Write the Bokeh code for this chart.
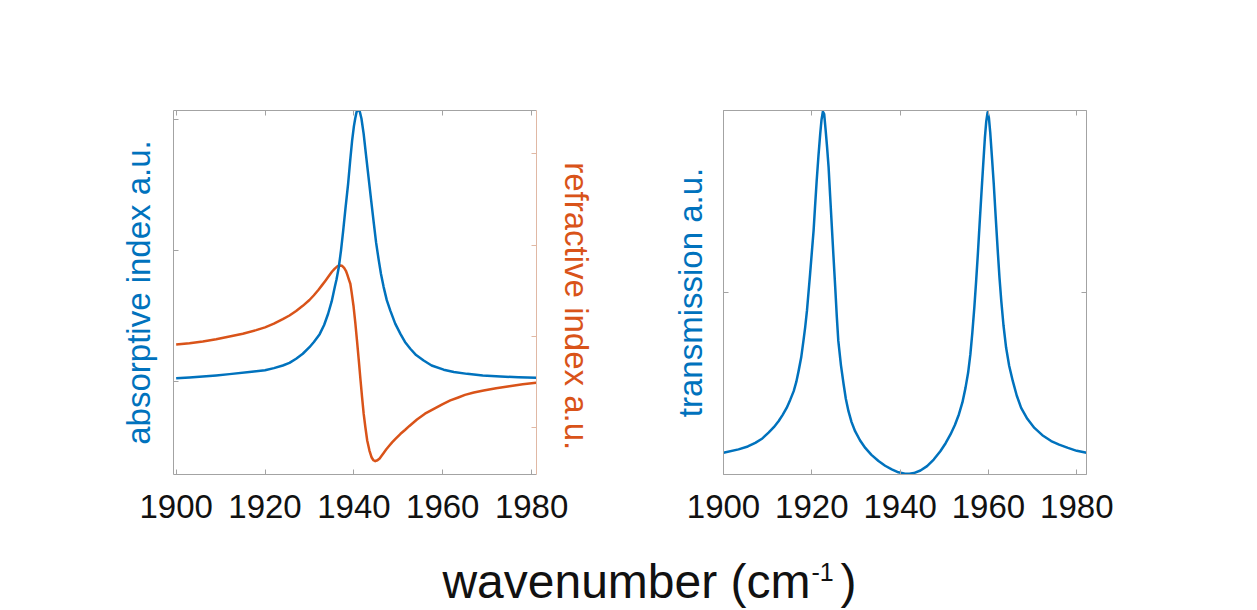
from bokeh.plotting import figure
from bokeh.models import Range1d, LinearAxis, FixedTicker, Label
from bokeh.layouts import row, column
from bokeh.embed import file_html
from bokeh.resources import INLINE

# ---- data -------------------------------------------------------------
# absorptive index (left axis of the left panel)
abs_wn = [1900, 1903, 1906, 1909, 1912, 1917, 1920, 1922, 1924, 1925.5,
          1927, 1928.5, 1930, 1931, 1932.3, 1933.3, 1934.2, 1935.0, 1935.7,
          1936.1, 1936.6, 1937.1, 1937.6, 1938.1, 1938.7, 1939.2, 1939.6,
          1940.0, 1940.3, 1940.6, 1941.0, 1941.35, 1941.7, 1942.2, 1942.7,
          1943.3, 1943.9, 1944.5, 1945.0, 1945.6, 1946.1, 1946.7, 1947.4,
          1948.2, 1949.3, 1950.5, 1951.5, 1952.7, 1954, 1955.7, 1957.5,
          1960.2, 1962.5, 1965.5, 1969, 1973, 1977, 1981]
abs_val = [0.011, 0.014, 0.018, 0.022, 0.027, 0.036, 0.042, 0.050, 0.060, 0.070,
           0.086, 0.105, 0.130, 0.150, 0.180, 0.215, 0.258, 0.305, 0.360,
           0.390, 0.436, 0.500, 0.577, 0.660, 0.755, 0.850, 0.920,
           0.975, 1.005, 1.030, 1.040, 1.030, 1.005, 0.946, 0.870,
           0.780, 0.690, 0.602, 0.530, 0.462, 0.410, 0.360, 0.310,
           0.270, 0.220, 0.180, 0.150, 0.124, 0.100, 0.079, 0.060,
           0.044, 0.035, 0.028, 0.022, 0.018, 0.015, 0.013]

# refractive index (right axis of the left panel)
ref_wn = [1900, 1903, 1906, 1909, 1912, 1915, 1918, 1920, 1922, 1924, 1925.5,
          1927, 1928.5, 1930, 1931, 1932, 1932.8, 1933.6, 1934.4, 1935.1,
          1935.7, 1936.2, 1936.6, 1937.0, 1937.4, 1937.8, 1938.2, 1938.5,
          1938.9, 1939.2, 1939.5, 1939.9, 1940.3, 1940.7, 1941.1, 1941.5,
          1941.85, 1942.2, 1942.6, 1943.0, 1943.5, 1944.0, 1944.4, 1944.8,
          1945.3, 1945.8, 1946.2, 1946.7, 1947.3, 1948.0, 1948.6, 1949.3,
          1950.5, 1951.5, 1952.5, 1954.2, 1956, 1958, 1960, 1961.7, 1963.5,
          1965, 1967, 1969.2, 1972, 1975, 1978, 1981]
ref_val = [0.456, 0.463, 0.473, 0.485, 0.500, 0.515, 0.535, 0.550, 0.570, 0.595, 0.615,
           0.640, 0.668, 0.700, 0.726, 0.755, 0.780, 0.806, 0.833, 0.856,
           0.872, 0.883, 0.888, 0.889, 0.886, 0.876, 0.860, 0.840,
           0.810, 0.789, 0.740, 0.670, 0.580, 0.478, 0.370, 0.259,
           0.165, 0.077, 0.000, -0.070, -0.125, -0.163, -0.178, -0.183,
           -0.178, -0.168, -0.155, -0.138, -0.118, -0.097, -0.080, -0.062,
           -0.033, -0.012, 0.010, 0.045, 0.077, 0.104, 0.130, 0.150, 0.166,
           0.180, 0.193, 0.204, 0.217, 0.228, 0.238, 0.246]

# transmission (right panel)
tr_wn = [1900.0, 1903.4, 1905.5, 1907.2, 1908.8, 1910.2, 1911.4, 1912.5, 1913.4,
         1914.3, 1915.1, 1915.9, 1916.5, 1917.0, 1917.6, 1918.1, 1918.5, 1918.9,
         1919.25, 1919.6, 1920.0, 1920.4, 1920.75, 1921.1, 1921.5, 1921.9, 1922.2,
         1922.5, 1922.8, 1923.1, 1923.45, 1923.8, 1924.15, 1924.5, 1924.9, 1925.3,
         1925.65, 1926.0, 1926.6, 1927.2, 1927.7, 1928.3, 1929.0, 1929.8, 1930.9,
         1932.1, 1933.5, 1935.1, 1936.6, 1938.1, 1939.6, 1941.1, 1942.1, 1943.1,
         1944.6, 1946.1, 1947.6, 1949.1, 1950.3, 1951.4, 1952.4, 1953.3, 1954.1,
         1954.8, 1955.4, 1955.9, 1956.35, 1956.8, 1957.2, 1957.6, 1958.0, 1958.4,
         1958.8, 1959.2, 1959.5, 1959.8, 1960.1, 1960.4, 1960.8, 1961.2, 1961.65,
         1962.1, 1962.5, 1962.9, 1963.4, 1964.0, 1964.7, 1965.5, 1966.4, 1967.4,
         1968.8, 1970.4, 1972.2, 1974.2, 1976.0, 1978.0, 1980.0, 1982.2]
tr_val = [0.0595, 0.069, 0.077, 0.087, 0.099, 0.115, 0.130, 0.147, 0.164,
          0.183, 0.205, 0.229, 0.255, 0.284, 0.322, 0.367, 0.405, 0.450,
          0.500, 0.550, 0.610, 0.670, 0.740, 0.807, 0.875, 0.936, 0.975,
          0.997, 0.990, 0.950, 0.900, 0.844, 0.765, 0.688, 0.600, 0.514,
          0.435, 0.367, 0.300, 0.248, 0.208, 0.174, 0.144, 0.119, 0.094,
          0.073, 0.054, 0.037, 0.024, 0.014, 0.006, 0.002, 0.002, 0.004,
          0.011, 0.023, 0.041, 0.064, 0.086, 0.110, 0.136, 0.165, 0.198,
          0.238, 0.280, 0.330, 0.390, 0.459, 0.530, 0.606, 0.690, 0.771,
          0.850, 0.927, 0.970, 0.995, 0.980, 0.940, 0.870, 0.798, 0.705,
          0.615, 0.540, 0.477, 0.410, 0.348, 0.298, 0.257, 0.217, 0.183,
          0.153, 0.128, 0.108, 0.092, 0.082, 0.073, 0.065, 0.0595]

x_ticks = [1900, 1920, 1940, 1960, 1980]
abs_ticks = [0, 0.5, 1.0]
ref_ticks = [0, 0.5, 1.0, 1.5]
tr_ticks = [0, 0.5, 1.0]

BLUE = "#0072BD"
ORANGE = "#D95319"
FRAME = "#a3a3a3"
FRAME_RIGHT = "#e0b8a4"
INK = "#111111"
FONT = "Liberation Sans"
LW = 2.5


def style_axis(ax, color, ticks, labels=False):
    ax.ticker = FixedTicker(ticks=ticks)
    ax.axis_line_color = color
    ax.axis_line_width = 1
    ax.major_tick_line_color = color
    ax.major_tick_in = 5
    ax.major_tick_out = 0
    ax.minor_tick_line_color = None
    if labels:
        ax.major_label_text_font = FONT
        ax.major_label_text_font_size = "33px"
        ax.major_label_text_color = INK
        ax.major_label_standoff = 20
    else:
        # tick marks only: labels are not drawn and take almost no room
        ax.major_label_text_font_size = "1px"
        ax.major_label_text_color = None
        ax.major_label_standoff = 0


def set_title(ax, text, color, standoff):
    ax.axis_label = text
    ax.axis_label_text_font = FONT
    ax.axis_label_text_font_size = "33px"
    ax.axis_label_text_font_style = "normal"
    ax.axis_label_text_color = color
    ax.axis_label_standoff = standoff


def base_figure(width, x_lo, x_hi, y_lo, y_hi, left, right):
    p = figure(width=width, height=530, output_backend="svg", toolbar_location=None,
               x_range=Range1d(x_lo, x_hi), y_range=Range1d(y_lo, y_hi),
               min_border_left=left, min_border_right=right,
               min_border_top=110, min_border_bottom=56)
    p.grid.visible = False
    p.outline_line_color = None
    p.background_fill_color = "white"
    p.border_fill_color = "white"
    style_axis(p.xaxis[0], FRAME, x_ticks, labels=True)
    top = LinearAxis()
    style_axis(top, FRAME, x_ticks)
    p.add_layout(top, "above")
    return p


# ---- left panel: absorptive and refractive index ----------------------
p1 = base_figure(630, 1899.4, 1981.1, -0.357, 1.0356, 173, 94)
style_axis(p1.yaxis[0], FRAME, abs_ticks)
set_title(p1.yaxis[0], "absorptive index a.u.", BLUE, 17)

p1.extra_y_ranges = {"n": Range1d(-0.256, 1.738)}
right_ax = LinearAxis(y_range_name="n")
style_axis(right_ax, FRAME_RIGHT, ref_ticks)
# leading no-break spaces nudge the title a little below the frame centre
set_title(right_ax, "\u00a0\u00a0\u00a0refractive index a.u.", ORANGE, 21)
p1.add_layout(right_ax, "right")

p1.line(ref_wn, ref_val, y_range_name="n", line_color=ORANGE, line_width=LW,
        line_join="round")
p1.line(abs_wn, abs_val, line_color=BLUE, line_width=LW, line_join="round")

# ---- right panel: transmission ---------------------------------------
p2 = base_figure(627, 1900.0, 1982.2, 0.0, 1.0, 93, 171)
style_axis(p2.yaxis[0], FRAME, tr_ticks)
set_title(p2.yaxis[0], "transmission a.u.", BLUE, 15)
right2 = LinearAxis()
style_axis(right2, FRAME, tr_ticks)
p2.add_layout(right2, "right")

p2.line(tr_wn, tr_val, line_color=BLUE, line_width=LW, line_join="round")

# ---- shared x label ----------------------------------------------------
p3 = figure(width=1257, height=80, output_backend="svg", toolbar_location=None,
            x_range=Range1d(0, 1257), y_range=Range1d(0, 80),
            x_axis_location=None, y_axis_location=None, min_border=0)
p3.grid.visible = False
p3.outline_line_color = None
p3.background_fill_color = "white"
p3.border_fill_color = "white"
p3.add_layout(Label(x=810, y=29, x_units="screen", y_units="screen",
                    text="wavenumber (cm", text_align="right",
                    text_baseline="alphabetic", text_font=FONT,
                    text_font_size="48px", text_color=INK))
p3.add_layout(Label(x=811, y=39, x_units="screen", y_units="screen",
                    text="-1", text_align="left", text_baseline="alphabetic",
                    text_font=FONT, text_font_size="25px", text_color=INK))
p3.add_layout(Label(x=840, y=29, x_units="screen", y_units="screen",
                    text=")", text_align="left", text_baseline="alphabetic",
                    text_font=FONT, text_font_size="48px", text_color=INK))

layout = column(row(p1, p2), p3)
open("out.html", "w").write(file_html(layout, INLINE))
